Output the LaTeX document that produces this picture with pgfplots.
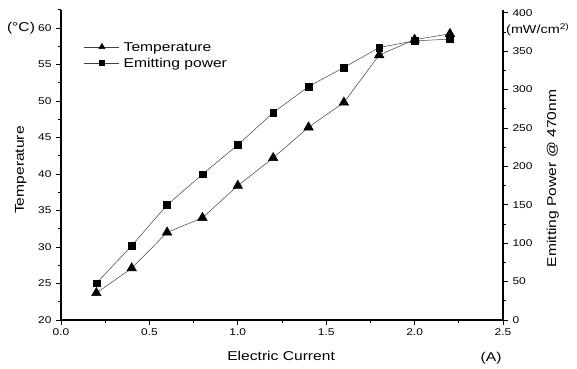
\documentclass[border=0pt]{standalone}
\usepackage{fontspec}
\setmainfont[FakeStretch=1.22]{Liberation Sans}
\usepackage{pgfplots}
\usepackage{pgfplotstable}
\pgfplotsset{compat=1.18}

\pgfplotstableread{
x T
0.2 23.7
0.4 27.1
0.6 32.0
0.8 34.0
1.0 38.4
1.2 42.2
1.4 46.4
1.6 49.8
1.8 56.3
2.0 58.4
2.2 59.2
}\temptable

\pgfplotstableread{
x P
0.2 47.8
0.4 96.8
0.6 149.8
0.8 189.8
1.0 228
1.2 270
1.4 304
1.6 328.8
1.8 354.8
2.0 363.5
2.2 365.7
}\powtable

\begin{document}
\begin{tikzpicture}[x=1pt,y=1pt]
\useasboundingbox (-61,-48) rectangle (516,320);
\pgfplotsset{
  every axis/.append style={
    scale only axis, width=442pt, height=310.25pt,
    at={(0pt,0pt)}, anchor=south west,
    xmin=0, xmax=2.5,
    clip=false,
    axis line style={-, line width=1.3pt},
    tick align=outside,
    major tick length=5pt, minor tick length=3pt,
    tick style={black, line width=0.8pt},
    /pgf/number format/assume math mode=true,
    ticklabel style={font=\fontsize{9.8}{10}\selectfont},
  },
}
\begin{axis}[
  ymin=20, ymax=62.5,
  axis x line*=bottom, axis y line*=left,
  xtick={0,0.5,...,2.5},
  minor xtick={0.25,0.75,...,2.25},
  ytick={20,25,...,60},
  minor ytick={22.5,27.5,...,62.5},
  xticklabel style={/pgf/number format/.cd, fixed, fixed zerofill, precision=1},
  yticklabel style={xshift=-1pt},
  xlabel={Electric Current},
  xlabel style={at={(axis description cs:0.498,0)}, anchor=center, yshift=-36pt, font=\fontsize{12.8}{14}\selectfont},
  ylabel={Temperature},
  ylabel style={at={(axis description cs:-0.091,0.4835)}, anchor=center, rotate=0, font=\fontsize{12.8}{14}\selectfont},
  legend style={draw=none, fill=none, at={(axis description cs:0.052,0.895)}, anchor=north west,
    font=\fontsize{12.8}{14}\selectfont, row sep=7pt, inner sep=0pt,
    nodes={inner sep=0pt, text depth=0pt}},
  legend cell align=left,
  legend image code/.code={\draw[mark repeat=2,mark phase=2] plot coordinates {(0pt,0pt)(17.5pt,0pt)(35pt,0pt)};},
]
\addplot[black!75, line width=0.5pt, mark=triangle*, mark size=5.5pt, forget plot,
  mark options={black, fill=black, solid}] table[x=x,y=T]{\temptable};
\addlegendimage{black!75, line width=0.5pt, mark=triangle*, mark size=3.6pt, mark options={black, fill=black}}
\addlegendentry{\hspace{4pt}Temperature}
\addlegendimage{black!75, line width=0.5pt, mark=square*, mark size=2.6pt, mark options={black, fill=black}}
\addlegendentry{\hspace{4pt}Emitting power}
\node[font=\fontsize{12.8}{14}\selectfont] at (axis description cs:-0.0905,0.941) {(°C)};
\node[font=\fontsize{12.8}{14}\selectfont] at (axis description cs:0.973,0) [yshift=-38pt] {(A)};
\end{axis}
\begin{axis}[
  ymin=0, ymax=404,
  axis x line=none, axis y line*=right,
  ytick={0,50,...,400},
  minor ytick={25,75,...,375},
  yticklabel style={xshift=1pt},
  ylabel={Emitting Power @ 470nm},
  ylabel style={at={(axis description cs:1.1125,0.456)}, anchor=center, rotate=0, font=\fontsize{12.8}{14}\selectfont},
]
\addplot[black!75, line width=0.5pt, mark=square*, mark size=3.4pt,
  mark options={black, fill=black, solid}] table[x=x,y=P]{\powtable};
\node[font=\fontsize{11.8}{13}\selectfont, anchor=west, inner sep=0pt] at (axis description cs:1.0,0.935) [xshift=3pt] {(mW/cm\textsuperscript{2)}};
\end{axis}
\end{tikzpicture}
\end{document}
